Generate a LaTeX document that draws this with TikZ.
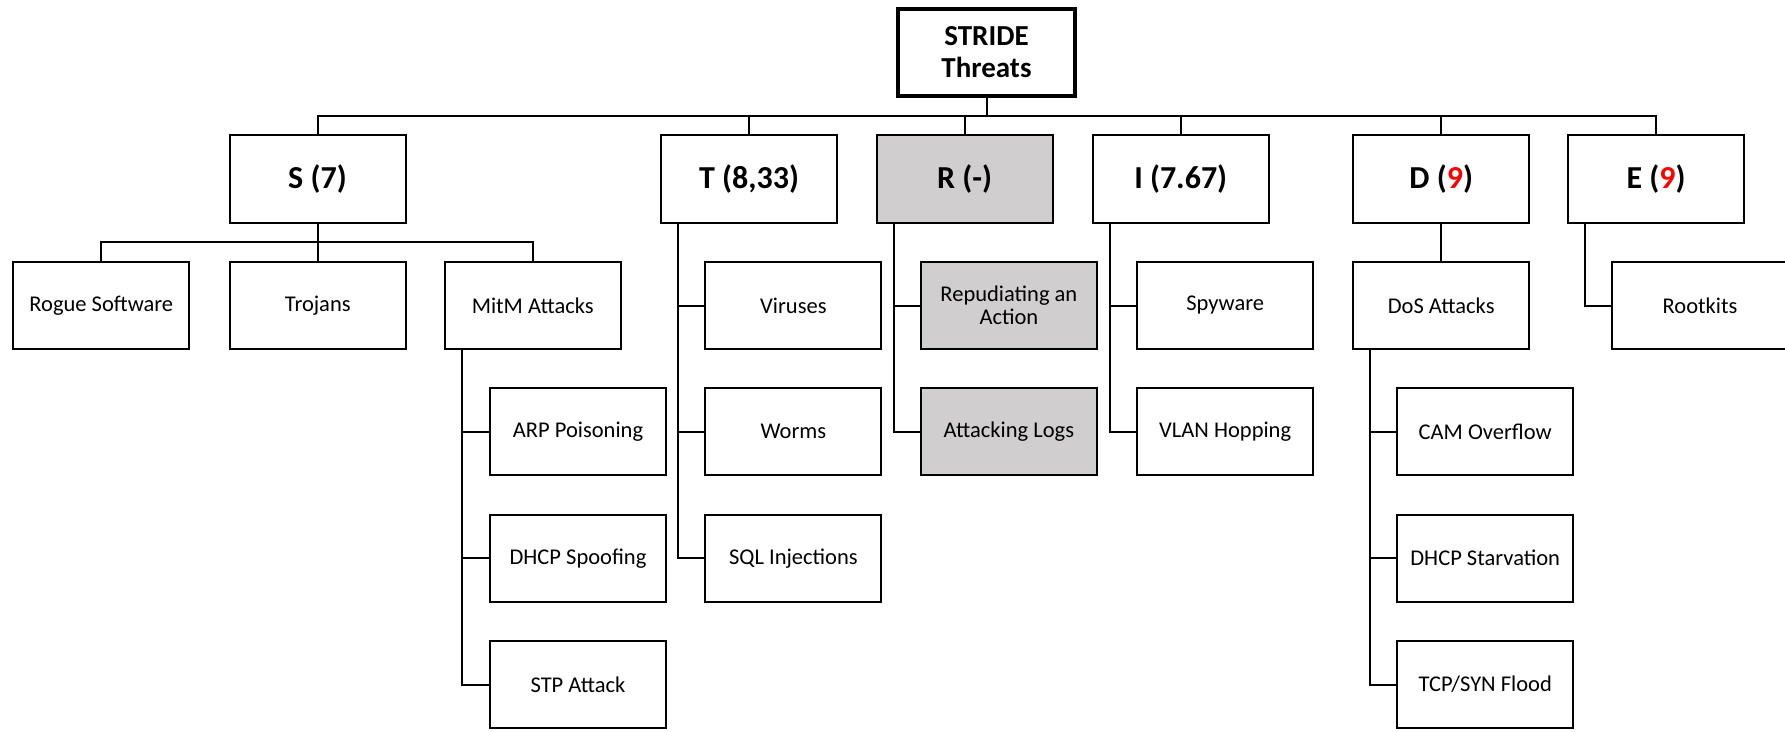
\documentclass[tikz,border=0pt]{standalone}
\usepackage{fontspec}
\setmainfont{Carlito}
\usetikzlibrary{calc}
\definecolor{mutedgrey}{RGB}{208,206,206}
\definecolor{hot}{RGB}{255,0,0}

\begin{document}
\begin{tikzpicture}[x=1pt,y=-1pt,
  box/.style={draw=black, line width=2pt, fill=white, inner sep=0pt,
    minimum width=176pt, minimum height=87pt, align=center,
    font=\fontsize{22.5}{23.5}\selectfont},
  cat/.style={box, minimum height=87.5pt, font=\bfseries\fontsize{32}{36}\selectfont},
  rootbox/.style={box, line width=4pt, minimum width=177pt, minimum height=87.5pt,
    font=\bfseries\fontsize{29}{32}\selectfont},
  muted/.style={fill=mutedgrey},
  link/.style={draw=black, line width=2pt}]

\useasboundingbox (0,0) rectangle (1785,731);

% root
\node[rootbox] (root) at (986.5,52.5) {STRIDE\\Threats};

% STRIDE categories
\node[cat] (S) at (317.5,178.8) {S (7)};
\node[cat] (T) at (749,178.8) {T (8,33)};
\node[cat,muted] (R) at (964.6,178.8) {R (-)};
\node[cat] (I) at (1180.7,178.8) {I (7.67)};
\node[cat] (D) at (1441.2,178.8) {D ({\color{hot}9})};
\node[cat] (E) at (1656,178.8) {E ({\color{hot}9})};

% first row of threats
\node[box] (rogue) at (101.3,305.5) {Rogue Software};
\node[box] (trojans) at (317.8,305.5) {Trojans};
\node[box] (mitm) at (532.7,305.5) {MitM Attacks};
\node[box] (viruses) at (793.4,305.5) {Viruses};
\node[box,muted] (repud) at (1008.9,305.5) {Repudiating an\\Action};
\node[box] (spyware) at (1225.2,305.5) {Spyware};
\node[box] (dos) at (1441.2,305.5) {DoS Attacks};
\node[box] (rootkits) at (1700,305.5) {Rootkits};

% MitM children
\node[box] (arp) at (578,431.8) {ARP Poisoning};
\node[box] (dhcpspoof) at (578,558.2) {DHCP Spoofing};
\node[box] (stp) at (578,684.5) {STP Attack};

% Tampering children
\node[box] (worms) at (793.4,431.8) {Worms};
\node[box] (sql) at (793.4,558.2) {SQL Injections};

% Repudiation child
\node[box,muted] (logs) at (1008.9,431.8) {Attacking Logs};

% Information disclosure child
\node[box] (vlan) at (1225.2,431.8) {VLAN Hopping};

% DoS children
\node[box] (cam) at (1485.2,431.8) {CAM Overflow};
\node[box] (dhcpstarve) at (1485.2,558.2) {DHCP Starvation};
\node[box] (tcp) at (1485.2,684.5) {TCP/SYN Flood};

% top-level bus
\coordinate (trunk) at (986.5,115.7);
\draw[link] (root.south) -- (trunk);
\foreach \c in {S,T,R,I,D,E}
  \draw[link] (trunk) -| (\c.north);

% spoofing bus
\coordinate (sbus) at (317.5,242.3);
\draw[link] (S.south) -- (S.south |- trojans.north);
\draw[link] (rogue.north) |- (sbus) -| (mitm.north);

% side spines
\foreach \p/\k in {mitm/arp, mitm/dhcpspoof, mitm/stp,
                   T/viruses, T/worms, T/sql,
                   R/repud, R/logs,
                   I/spyware, I/vlan,
                   dos/cam, dos/dhcpstarve, dos/tcp,
                   E/rootkits}
  \draw[link] ($(\p.south west)+(18,0)$) |- (\k.west);

\draw[link] (D.south) -- (dos.north);

\end{tikzpicture}
\end{document}
